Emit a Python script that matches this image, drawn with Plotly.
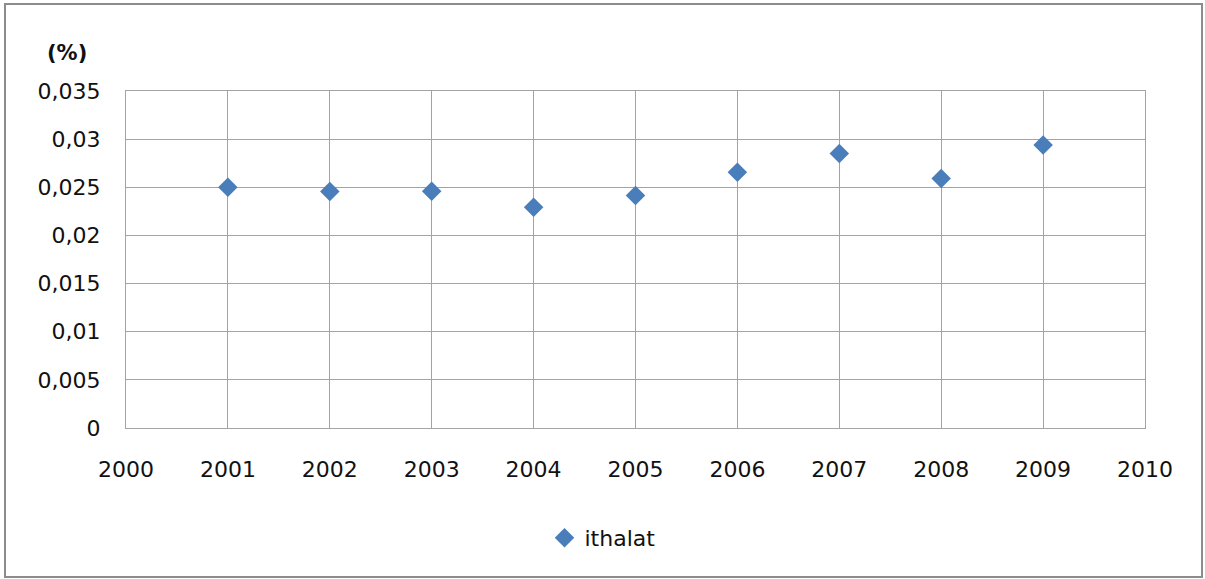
import plotly.graph_objects as go

years = [2001, 2002, 2003, 2004, 2005, 2006, 2007, 2008, 2009]
ithalat = [0.0250, 0.02455, 0.02458, 0.02292, 0.02414, 0.02656, 0.02850, 0.02590, 0.02940]
series_name = "ithalat"
y_title = "(%)"
x_ticks = list(range(2000, 2011))
y_ticks = [0, 0.005, 0.01, 0.015, 0.02, 0.025, 0.03, 0.035]

FONT = "DejaVu Sans"
GRID = "#a3a3a3"

fig = go.Figure()
fig.add_trace(go.Scatter(
    x=years, y=ithalat, mode="markers", name=series_name,
    marker=dict(symbol="diamond", size=15, color="#4a7ebb", line=dict(width=0)),
))

W, H = 1205, 579
L, R, T, B = 126, 1145, 91, 428
fig.update_layout(
    width=W, height=H,
    margin=dict(l=L, r=W - R, t=T, b=H - B),
    paper_bgcolor="white", plot_bgcolor="white",
    separators=",.",
    font=dict(family=FONT, size=22, color="#111111"),
    showlegend=True,
    legend=dict(xref="container", yref="container", x=0.5, y=1 - 538 / H,
                xanchor="center", yanchor="middle", orientation="h",
                font=dict(family=FONT, size=22, color="#111111")),
    xaxis=dict(range=[2000, 2010], tickvals=x_ticks, showgrid=True, gridcolor=GRID, gridwidth=1,
               showline=True, linecolor=GRID, linewidth=1, mirror=True, zeroline=False,
               ticks="", ticklabelstandoff=22),
    yaxis=dict(range=[0, 0.035], tickvals=y_ticks, showgrid=True, gridcolor=GRID, gridwidth=1,
               showline=True, linecolor=GRID, linewidth=1, mirror=True, zeroline=False,
               ticks="", ticklabelstandoff=20),
)

pw, ph = R - L, B - T
fig.add_annotation(text="<b>" + y_title + "</b>", xref="paper", yref="paper",
                   x=(67 - L) / pw, y=(B - 53) / ph, xanchor="center", yanchor="middle",
                   showarrow=False, font=dict(family=FONT, size=21, color="#111111"))

fig.add_shape(type="rect", xref="paper", yref="paper",
              x0=(5 - L) / pw, x1=(1202 - L) / pw, y0=(B - 577) / ph, y1=(B - 4) / ph,
              line=dict(color="#8c8c8c", width=2), layer="below")

fig.write_html("out.html", config={"displayModeBar": False},
               post_script="document.body.style.margin='0';document.body.style.overflow='hidden';")
